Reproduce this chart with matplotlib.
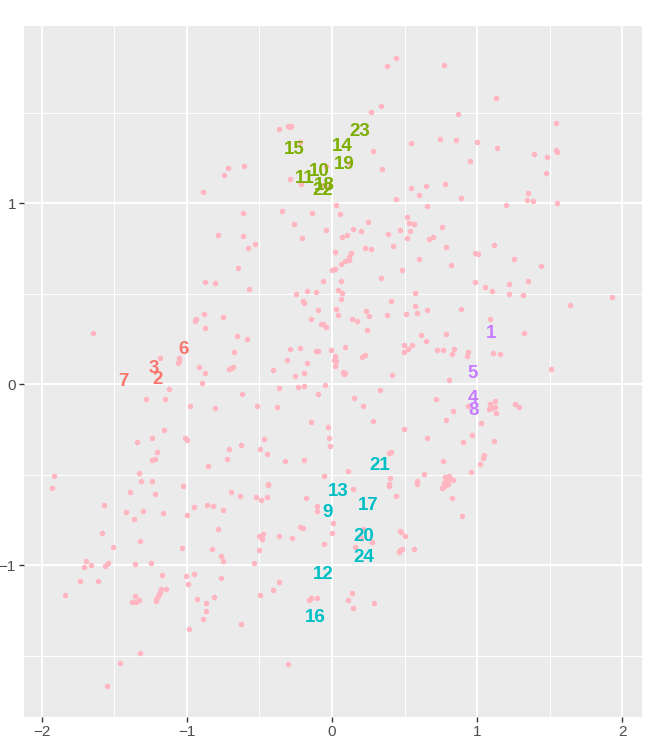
import numpy as np
import matplotlib.pyplot as plt

# ---------- data ----------

# background cloud (pink points)
pt_x = [
    -0.716, -0.741, -0.892, -0.785,
    0.443, 0.377, 0.340, 0.269, -0.367, -0.30, -0.29, -0.28, 0.547, 0.283, -0.219, -0.604,
    -0.040, 0.345, -0.288, -0.212, 0.120, -0.052, -0.022, 0.544, 0.647, 0.601, 0.443, 0.654,
    0.029, 0.058, -0.344, -0.136, -0.613, -0.262, -0.038, -0.205, -0.613, -0.528, -0.578,
    0.246, 0.146, 0.201, 0.104, 0.070, 0.388, 0.466, 0.519, 0.533, 0.563, 0.535, 0.519,
    0.670, 0.698, 0.421, 0.226, 0.267, 0.022, 0.134,
    0.773, 1.131, 0.869, 0.743, 0.856, 1.000, 1.140, 0.952, 1.541, 1.394, 1.484, 1.543,
    1.552, 1.474, 0.782, 0.892, 1.353, 1.346, 1.385, 1.552, 1.201, 0.760, 0.789, 1.119,
    0.988, 1.007,
    -0.872, -0.803, -0.883, -0.750, -0.947, -0.936, -0.874, -1.648, -1.186, -1.057, -1.062,
    -1.053, -0.913, -0.872, -0.711, -0.897, -1.124, -1.284, -1.151, -0.975, -0.805, -1.155,
    -1.243, -1.344, -1.014, -0.998, -1.208, -1.243, -1.220, -0.711, -0.722, -0.855, -1.914,
    -1.328, -1.317, -1.243,
    -0.650, -0.574, 0.120, 0.116, 0.088, 0.065, 0.024, 0.003, 0.597, 0.485, 0.338, -0.065,
    0.065, -0.175, -0.109, -0.246, 0.045, 0.068, 0.063, -0.200, -0.191, 0.574, 0.409, 0.572,
    0.583, 0.652, 0.512, 0.381, 0.235, 0.253, 0.139, 0.175, 0.026, 0.045, -0.097, -0.141,
    -0.074, -0.061, -0.040, 0.244, -0.654, -0.583, 0.616, 0.650, 0.494, 0.553, 0.526, 0.496,
    -0.677, -0.290, -0.221, -0.111, -0.093, -0.010, 0.093, 0.210, 0.226, 0.022, 0.013, 0.029,
    0.019, -0.310, -0.173, -0.693, -0.682, -0.409, -0.258, -0.191, 0.074, 0.088, 0.080, 0.416,
    -0.045, -0.237, -0.196, -0.365, -0.617, -0.095, 0.331, 0.155, 0.214, -0.519, -0.381,
    0.285, -0.145, -0.029, 0.494, 0.652, -0.022, -0.015, -0.466, -0.626, -0.498, -0.448,
    -0.324, -0.194, 0.391, 0.409, 0.111, -0.058, 0.400, 0.636, 0.586, 0.583, 0.395, -0.443,
    0.817, 1.257, 1.438, 0.989, 1.053, 1.101, 1.222, 1.353, 1.218, 1.318, 1.932, 1.637, 0.890,
    1.089, 0.785, 1.325, 0.723, 0.762, 0.844, 0.824, 0.940, 0.929, 1.111, 1.158, 1.506, 0.805,
    0.716, 0.934, 0.833, 1.087, 1.126, 1.083, 1.105, 1.124, 1.131, 1.263, 1.286, 0.789, 1.027,
    0.963, 0.901, 1.117, 0.764, 1.048, 1.041, 1.018, 0.961, 0.805, 0.796, 0.785, 0.773, 0.837,
    0.762, 0.785, 0.824, 0.895, 0.78, 0.79, 0.77, 0.76, 0.80, 0.82,
    -1.930, -1.389, -1.220, -1.027, -1.573, -1.419, -1.302, -1.162, -1.362, -1.000, -0.950,
    -0.863, -0.819, -0.753, -0.787, -1.584, -1.325, -1.508, -1.032, -0.828, -0.766, -0.748,
    -1.692, -1.708, -1.658, -1.561, -1.543, -1.355, -1.250, -1.172, -1.007, -0.995, -0.950,
    -0.766, -1.738, -1.609, -1.838, -1.177, -1.142, -1.186, -1.195, -1.202, -1.213, -1.209,
    -1.355, -1.376, -1.348, -1.332, -0.931, -0.865, -0.814, -0.865, -0.892, -0.986, -1.323,
    -1.463, -1.550,
    -0.693, -0.636, -0.521, -0.489, -0.450, -0.443, -0.180, 0.148, 0.393, 0.443, -0.104,
    -0.106, 0.010, 0.001, -0.221, -0.200, -0.503, -0.475, -0.484, -0.368, -0.274, -0.503,
    -0.535, -0.054, 0.212, 0.200, 0.278, 0.162, 0.469, 0.475, 0.501, 0.563, 0.460, 0.469,
    0.482, -0.365, -0.409, -0.498, -0.159, -0.145, -0.102, 0.141, 0.111, 0.148, 0.287,
    -0.629, -0.306,
]
pt_y = [
    1.198, 1.159, 1.062, 0.824,
    1.806, 1.758, 1.540, 1.507, 1.411, 1.43, 1.42, 1.43, 1.334, 1.290, 1.338, 1.205,
    1.209, 1.191, 1.137, 1.110, 1.225, 1.102, 1.089, 1.084, 1.097, 1.047, 1.025, 0.986,
    0.990, 0.944, 0.957, 0.949, 0.946, 0.885, 0.853, 0.811, 0.820, 0.778, 0.751,
    0.898, 0.861, 0.850, 0.828, 0.815, 0.830, 0.855, 0.925, 0.894, 0.885, 0.846, 0.811,
    0.802, 0.813, 0.765, 0.752, 0.749, 0.734, 0.728,
    1.763, 1.581, 1.496, 1.356, 1.349, 1.338, 1.305, 1.233, 1.443, 1.275, 1.257, 1.294,
    1.283, 1.170, 1.106, 1.032, 1.056, 1.017, 1.012, 1.005, 0.990, 0.868, 0.761, 0.772,
    0.728, 0.719,
    0.568, 0.561, 0.388, 0.371, 0.353, 0.364, 0.310, 0.282, 0.145, 0.146, 0.120,
    0.129, 0.095, 0.065, 0.084, 0.008, -0.027, -0.080, -0.080, -0.121, -0.130, -0.250,
    -0.294, -0.316, -0.294, -0.307, -0.373, -0.415, -0.413, -0.358, -0.413, -0.452, -0.504,
    -0.491, -0.535, -0.535,
    0.646, 0.529, 0.706, 0.690, 0.684, 0.664, 0.638, 0.634, 0.692, 0.634, 0.590, 0.572,
    0.572, 0.518, 0.511, 0.498, 0.524, 0.504, 0.474, 0.461, 0.448, 0.504, 0.460, 0.436,
    0.393, 0.410, 0.388, 0.382, 0.408, 0.380, 0.364, 0.351, 0.415, 0.384, 0.410, 0.364,
    0.334, 0.335, 0.318, 0.303, 0.268, 0.249, 0.272, 0.240, 0.220, 0.220, 0.198, 0.181,
    0.181, 0.196, 0.202, 0.185, 0.185, 0.192, 0.209, 0.152, 0.163, 0.157, 0.134, 0.130,
    0.104, 0.134, 0.117, 0.089, 0.098, 0.080, 0.049, 0.062, 0.071, 0.061, 0.059, 0.052,
    -0.001, -0.014, -0.008, -0.021, -0.051, -0.051, -0.032, -0.073, -0.117, -0.119, -0.124,
    -0.201, -0.205, -0.237, -0.246, -0.296, -0.296, -0.340, -0.303, -0.334, -0.358, -0.386,
    -0.425, -0.419, -0.380, -0.371, -0.476, -0.504, -0.519, -0.493, -0.533, -0.548, -0.552, -0.548,
    0.660, 0.692, 0.655, 0.564, 0.540, 0.518, 0.553, 0.572, 0.500, 0.493, 0.481, 0.441, 0.419,
    0.362, 0.281, 0.283, 0.191, 0.192, 0.198, 0.169, 0.181, 0.159, 0.172, 0.170, 0.087, 0.023,
    -0.080, -0.119, -0.148, -0.108, -0.094, -0.137, -0.128, -0.126, -0.156, -0.108, -0.126, -0.198, -0.213,
    -0.281, -0.320, -0.314, -0.423, -0.389, -0.406, -0.439, -0.482, -0.504, -0.519, -0.530, -0.543, -0.526,
    -0.565, -0.555, -0.627, -0.727, -0.51, -0.53, -0.56, -0.57, -0.55, -0.52,
    -0.574, -0.592, -0.607, -0.563, -0.664, -0.705, -0.701, -0.710, -0.743, -0.719, -0.677,
    -0.666, -0.669, -0.692, -0.797, -0.819, -0.865, -0.900, -0.905, -0.911, -0.948, -0.977,
    -0.973, -1.010, -0.995, -1.004, -0.984, -0.994, -0.986, -1.052, -1.060, -1.100, -1.049,
    -1.071, -1.088, -1.088, -1.165, -1.132, -1.132, -1.144, -1.156, -1.169, -1.183, -1.194,
    -1.168, -1.203, -1.203, -1.192, -1.187, -1.205, -1.172, -1.253, -1.294, -1.349, -1.485,
    -1.537, -1.668,
    -0.596, -0.616, -0.624, -0.638, -0.624, -0.555, -0.629, -0.577, -0.559, -0.616, -0.671,
    -0.697, -0.767, -0.819, -0.789, -0.795, -0.835, -0.828, -0.853, -0.839, -0.848, -0.914,
    -0.988, -0.881, -0.800, -0.850, -0.868, -0.899, -0.808, -0.815, -0.839, -0.907, -0.924, -0.916,
    -0.907, -1.089, -1.135, -1.165, -1.193, -1.181, -1.179, -1.152, -1.191, -1.233, -1.209,
    -1.321, -1.542,
]

# numbered labels and their groups
lab_text = ["1", "2", "3", "4", "5", "6", "7", "8", "9", "10", "11", "12",
            "13", "14", "15", "16", "17", "18", "19", "20", "21", "22", "23", "24"]
lab_x = [1.098, -1.199, -1.227, 0.968, 0.970, -1.021, -1.440, 0.979, -0.033, -0.090, -0.189, -0.063,
         0.040, 0.070, -0.262, -0.113, 0.253, -0.052, 0.084, 0.216, 0.327, -0.063, 0.191, 0.221]
lab_y = [0.283, 0.025, 0.086, -0.080, 0.061, 0.191, 0.019, -0.143, -0.706, 1.176, 1.135, -1.049,
         -0.592, 1.316, 1.296, -1.288, -0.669, 1.097, 1.213, -0.841, -0.450, 1.069, 1.397, -0.957]
lab_group = ["d", "a", "a", "d", "d", "a", "a", "d", "c", "b", "b", "c",
             "c", "b", "b", "c", "c", "b", "b", "c", "c", "b", "b", "c"]

group_colors = {"a": "#F8766D", "b": "#7CAE00", "c": "#00BFC4", "d": "#C77CFF"}

# ---------- plot ----------

plt.rcParams["font.family"] = ["Liberation Sans", "DejaVu Sans"]

fig = plt.figure(figsize=(6.62, 7.55), dpi=100)
ax = fig.add_axes([0.0358, 0.0499, 0.9335, 0.9161])
ax.set_facecolor("#EBEBEB")

ax.scatter(pt_x, pt_y, s=16, c="#FFB6C1", linewidths=0, zorder=3)

for t, x, y, g in zip(lab_text, lab_x, lab_y, lab_group):
    ax.text(x, y, t, color=group_colors[g], fontsize=13.5, fontweight="bold",
            ha="center", va="center", zorder=4)

ax.set_xlim(-2.124, 2.134)
ax.set_ylim(-1.839, 1.982)
ax.set_xticks([-2, -1, 0, 1, 2])
ax.set_xticklabels(["\u22122", "\u22121", "0", "1", "2"])
ax.set_yticks([-1, 0, 1])
ax.set_yticklabels(["\u22121", "0", "1"])
ax.set_xticks(np.arange(-1.5, 2.0, 1.0), minor=True)
ax.set_yticks([-1.5, -0.5, 0.5, 1.5], minor=True)

ax.grid(True, which="major", color="white", linewidth=1.4, zorder=1)
ax.grid(True, which="minor", color="white", linewidth=0.7, zorder=1)
ax.set_axisbelow(True)
for sp in ax.spines.values():
    sp.set_visible(False)
ax.tick_params(which="major", length=3.5, width=1.0, color="#333333",
               labelsize=11, labelcolor="#4D4D4D", pad=2)
ax.tick_params(which="minor", length=0)

fig.savefig("out.png", dpi=100)
